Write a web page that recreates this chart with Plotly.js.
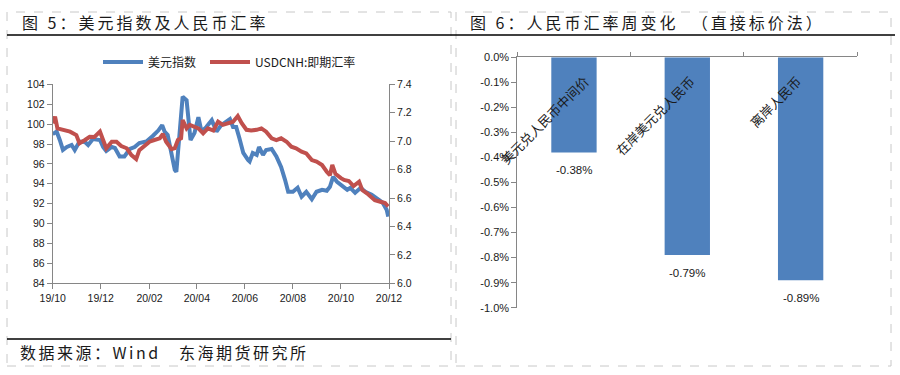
<!DOCTYPE html>
<html>
<head>
<meta charset="utf-8">
<script src="https://cdn.plot.ly/plotly-3.0.1.min.js"></script>
<style>
html, body { margin: 0; padding: 0; background: #fff; }
#chart { width: 900px; height: 375px; }
text[data-unformatted^="图"] { letter-spacing: 3px; }
text[data-unformatted^="数据来源"] { letter-spacing: 2.5px; }
</style>
</head>
<body>
<div id="chart"></div>
<script>
// ---- Figure 5: US dollar index vs USDCNH ----
const dxyDates = ["2019-10-01","2019-10-06","2019-10-10","2019-10-14","2019-10-19","2019-10-25","2019-10-29","2019-11-04","2019-11-11","2019-11-15","2019-11-21","2019-11-30","2019-12-04","2019-12-08","2019-12-15","2019-12-19","2019-12-25","2019-12-31","2020-01-07","2020-01-13","2020-01-19","2020-01-28","2020-02-05","2020-02-12","2020-02-17","2020-02-20","2020-02-24","2020-02-29","2020-03-04","2020-03-06","2020-03-09","2020-03-12","2020-03-14","2020-03-19","2020-03-21","2020-03-24","2020-03-29","2020-04-03","2020-04-07","2020-04-13","2020-04-20","2020-04-26","2020-05-02","2020-05-09","2020-05-13","2020-05-17","2020-05-21","2020-05-25","2020-05-30","2020-06-05","2020-06-07","2020-06-11","2020-06-16","2020-06-19","2020-06-24","2020-06-28","2020-07-05","2020-07-11","2020-07-17","2020-07-22","2020-07-26","2020-08-01","2020-08-07","2020-08-12","2020-08-18","2020-08-25","2020-08-31","2020-09-07","2020-09-13","2020-09-17","2020-09-21","2020-09-26","2020-10-02","2020-10-09","2020-10-13","2020-10-19","2020-10-26","2020-11-01","2020-11-09","2020-11-17","2020-11-23","2020-11-28","2020-11-30"];
const dxyValues = [99.0,99.25,98.4,97.4,97.7,97.9,97.4,98.25,98.2,97.9,98.5,98.4,97.7,97.3,97.7,97.6,96.75,96.75,97.5,97.7,98.1,98.25,98.8,99.35,99.9,99.25,98.9,96.75,95.4,95.2,97.8,100.4,102.75,102.4,100.7,98.4,99.1,100.7,99.25,99.7,100.4,99.25,99.9,100.25,100.5,99.7,99.7,98.6,97.1,96.4,96.25,97.1,96.9,97.7,96.9,97.4,97.5,96.75,95.7,94.4,93.2,93.2,93.6,92.7,93.2,92.45,93.2,93.4,93.3,93.7,94.7,94.2,93.8,93.4,93.6,93.1,93.6,93.2,92.9,92.4,92.1,91.4,90.7];

const cnhDates = ["2019-10-01","2019-10-04","2019-10-07","2019-10-14","2019-10-23","2019-10-31","2019-11-04","2019-11-11","2019-11-17","2019-11-23","2019-11-30","2019-12-04","2019-12-08","2019-12-15","2019-12-21","2019-12-27","2020-01-03","2020-01-09","2020-01-15","2020-01-19","2020-01-26","2020-02-01","2020-02-07","2020-02-14","2020-02-18","2020-02-22","2020-02-29","2020-03-04","2020-03-08","2020-03-12","2020-03-14","2020-03-19","2020-03-23","2020-03-27","2020-04-03","2020-04-09","2020-04-15","2020-04-22","2020-04-28","2020-05-04","2020-05-11","2020-05-17","2020-05-23","2020-05-28","2020-06-03","2020-06-09","2020-06-16","2020-06-22","2020-06-28","2020-07-05","2020-07-11","2020-07-17","2020-07-24","2020-07-30","2020-08-05","2020-08-12","2020-08-18","2020-08-25","2020-08-31","2020-09-07","2020-09-13","2020-09-17","2020-09-20","2020-09-24","2020-10-01","2020-10-05","2020-10-11","2020-10-17","2020-10-24","2020-10-28","2020-11-03","2020-11-09","2020-11-13","2020-11-20","2020-11-26","2020-11-30"];
const cnhValues = [7.126,7.172,7.09,7.08,7.067,7.043,6.985,7.008,7.031,7.03,7.067,7.008,6.95,6.996,6.996,6.966,6.95,6.902,6.874,6.937,6.973,6.996,7.008,7.02,7.05,6.996,6.943,6.95,7.008,7.02,7.149,7.09,7.115,7.104,7.09,7.055,7.09,7.075,7.137,7.115,7.126,7.137,7.177,7.126,7.08,7.075,7.08,7.09,7.067,7.02,7.008,7.02,6.996,6.961,6.95,6.926,6.914,6.867,6.856,6.832,6.785,6.76,6.832,6.77,6.74,6.727,6.72,6.684,6.715,6.656,6.633,6.609,6.585,6.574,6.565,6.54];

const seriesNames = ["美元指数", "USDCNH:即期汇率"];
const xTickDates = ["2019-10-01","2019-12-01","2020-02-01","2020-04-01","2020-06-01","2020-08-01","2020-10-01","2020-12-01"];
const xTickLabels = ["19/10","19/12","20/02","20/04","20/06","20/08","20/10","20/12"];

// ---- Figure 6: weekly change of RMB exchange rates ----
const rmbCategories = ["美元兑人民币中间价", "在岸美元兑人民币", "离岸人民币"];
const rmbChanges = [-0.38, -0.79, -0.89];
const pctTicks = [0, -0.1, -0.2, -0.3, -0.4, -0.5, -0.6, -0.7, -0.8, -0.9, -1.0];

const title5 = "图 5：美元指数及人民币汇率";
const title6 = "图 6：人民币汇率周变化\u00A0\u00A0（直接标价法）";
const sourceText = "数据来源：Wind\u00A0\u00A0\u00A0东海期货研究所";

// styling
const blue = "#4F81BD", red = "#C0504D", axisGray = "#868686", txt = "#1a1a1a";
const cjk = "'Noto Sans CJK SC', 'Noto Sans', sans-serif";
const num = "'Liberation Sans', Arial, sans-serif";
const W = 900, H = 375;
const px = v => v / W, py = v => 1 - v / H;

const traces = [
  { x: dxyDates, y: dxyValues, name: seriesNames[0], type: "scatter", mode: "lines",
    line: { color: blue, width: 4 }, xaxis: "x", yaxis: "y", legend: "legend" },
  { x: cnhDates, y: cnhValues, name: seriesNames[1], type: "scatter", mode: "lines",
    line: { color: red, width: 4 }, xaxis: "x", yaxis: "y2", legend: "legend2" },
  { x: rmbCategories, y: rmbChanges, type: "bar", marker: { color: blue }, width: 0.4,
    xaxis: "x3", yaxis: "y3", showlegend: false, hoverinfo: "skip" }
];

const catShift = [21, 14, 7.5];
const annotations = [
  { text: title5, xref: "paper", yref: "paper", x: px(20), y: py(22), xanchor: "left", yanchor: "middle",
    showarrow: false, font: { family: cjk, size: 16, color: txt } },
  { text: title6, xref: "paper", yref: "paper", x: px(468), y: py(22), xanchor: "left", yanchor: "middle",
    showarrow: false, font: { family: cjk, size: 16, color: txt } },
  { text: sourceText, xref: "paper", yref: "paper", x: px(18), y: py(352), xanchor: "left", yanchor: "middle",
    showarrow: false, font: { family: cjk, size: 16, color: txt } }
];
rmbCategories.forEach((c, i) => {
  annotations.push({ text: c, xref: "x3", yref: "y3", x: c, y: 0, xanchor: "right", yanchor: "top",
    xshift: catShift[i], yshift: -12, textangle: -45, showarrow: false,
    font: { family: cjk, size: 13, color: txt } });
  annotations.push({ text: rmbChanges[i].toFixed(2) + "%", xref: "x3", yref: "y3", x: c, y: rmbChanges[i],
    yshift: -18, xanchor: "center", yanchor: "middle", showarrow: false,
    font: { family: num, size: 11.5, color: txt } });
});

const shapes = [
  { type: "rect", xref: "paper", yref: "paper", x0: px(7), x1: px(451), y0: py(366), y1: py(12),
    line: { color: "#C8C8C8", width: 1, dash: "dash" } },
  { type: "rect", xref: "paper", yref: "paper", x0: px(456), x1: px(891), y0: py(366), y1: py(12),
    line: { color: "#C8C8C8", width: 1, dash: "dash" } },
  { type: "line", xref: "paper", yref: "paper", x0: px(7), x1: px(895), y0: py(35), y1: py(35),
    line: { color: "#000", width: 1.5 } },
  { type: "line", xref: "paper", yref: "paper", x0: px(7), x1: px(451), y0: py(339), y1: py(339),
    line: { color: "#000", width: 1.5 } }
];

const axCommon = { showline: true, linecolor: axisGray, linewidth: 1, ticks: "outside", ticklen: 5,
  tickcolor: axisGray, showgrid: false, zeroline: false, fixedrange: true };

const legendCommon = { orientation: "h", y: py(62), xanchor: "left", yanchor: "middle",
  font: { family: cjk, size: 12, color: txt }, bgcolor: "rgba(0,0,0,0)", itemwidth: 40 };

const layout = {
  width: W, height: H, margin: { l: 0, r: 0, t: 0, b: 0 },
  paper_bgcolor: "#fff", plot_bgcolor: "#fff",
  showlegend: true,
  legend: Object.assign({}, legendCommon, { x: px(98) }),
  legend2: Object.assign({}, legendCommon, { x: px(205) }),
  xaxis: Object.assign({}, axCommon, { domain: [px(52.7), px(389)], anchor: "y", type: "date",
    range: ["2019-10-01", "2020-12-01"], tickvals: xTickDates, ticktext: xTickLabels,
    tickfont: { family: num, size: 10.5, color: txt } }),
  yaxis: Object.assign({}, axCommon, { domain: [py(283.3), py(84.3)], anchor: "x", range: [84, 104], dtick: 2,
    tickfont: { family: num, size: 10.5, color: txt } }),
  yaxis2: Object.assign({}, axCommon, { overlaying: "y", side: "right", anchor: "x", range: [6.0, 7.4],
    dtick: 0.2, tick0: 6.0, tickformat: ".1f", tickfont: { family: num, size: 10.5, color: txt } }),
  xaxis3: Object.assign({}, axCommon, { domain: [px(517.3), px(857.3)], anchor: "y3", type: "category",
    side: "top", range: [-0.5, 2.5], tickson: "boundaries", ticklen: 4, showticklabels: false }),
  yaxis3: Object.assign({}, axCommon, { domain: [py(307.7), py(57.3)], anchor: "x3", range: [-1.0, 0],
    tickvals: pctTicks, ticktext: pctTicks.map(v => (Math.abs(v) < 1e-9 ? "0.0" : v.toFixed(1)) + "%"),
    tickfont: { family: num, size: 11, color: txt } }),
  annotations: annotations,
  shapes: shapes,
  bargap: 0.6
};

Plotly.newPlot("chart", traces, layout, { staticPlot: true, displayModeBar: false });
</script>
</body>
</html>
